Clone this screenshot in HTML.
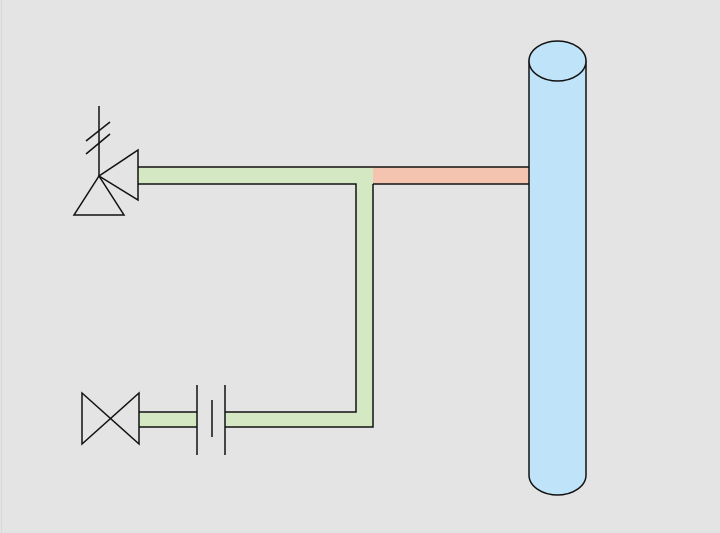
<!DOCTYPE html>
<html><head><meta charset="utf-8"><style>
html,body{margin:0;padding:0;background:#e4e4e4;}
svg{display:block;}
</style></head><body>
<svg width="720" height="533" viewBox="0 0 720 533" xmlns="http://www.w3.org/2000/svg">
<rect x="0" y="0" width="720" height="533" fill="#e4e4e4"/>
<line x1="1.5" y1="0" x2="1.5" y2="533" stroke="#d8d8d8" stroke-width="1"/>
<!-- green pipe fills -->
<rect x="138" y="167" width="235" height="17" fill="#d5e8c4"/>
<rect x="356" y="167" width="17" height="260" fill="#d5e8c4"/>
<rect x="225" y="412" width="148" height="15" fill="#d5e8c4"/>
<rect x="139" y="412" width="58" height="15" fill="#d5e8c4"/>
<rect x="373" y="167" width="156" height="17" fill="#f4c4b0"/>
<g stroke="#111" stroke-width="1.5" fill="none">
<line x1="138" y1="167" x2="529" y2="167"/>
<polyline points="138,184 356,184 356,412 225,412"/>
<polyline points="373,184 529,184"/>
<polyline points="373,184 373,427 225,427"/>
<line x1="139" y1="412" x2="197" y2="412"/>
<line x1="139" y1="427" x2="197" y2="427"/>
<!-- flange -->
<line x1="197" y1="385" x2="197" y2="455"/>
<line x1="212" y1="400" x2="212" y2="437"/>
<line x1="225" y1="385" x2="225" y2="455"/>
<!-- bottom valve -->
<polygon points="82,393 139,444 139,393 82,444" fill="none"/>
<!-- top valve -->
<line x1="99" y1="106" x2="99" y2="176"/>
<line x1="86" y1="141" x2="110" y2="122"/>
<line x1="86" y1="154" x2="110" y2="134"/>
<polygon points="99,176 138,150 138,200"/>
<polygon points="99,176 74,215 124,215"/>
</g>
<!-- vessel -->
<path d="M529,61 L529,475 A28.5,20 0 0 0 586,475 L586,61 Z" fill="#bfe3f8" stroke="#111" stroke-width="1.5"/>
<ellipse cx="557.5" cy="61" rx="28.5" ry="20" fill="#bfe3f8" stroke="#111" stroke-width="1.5"/>
</svg>
</body></html>
